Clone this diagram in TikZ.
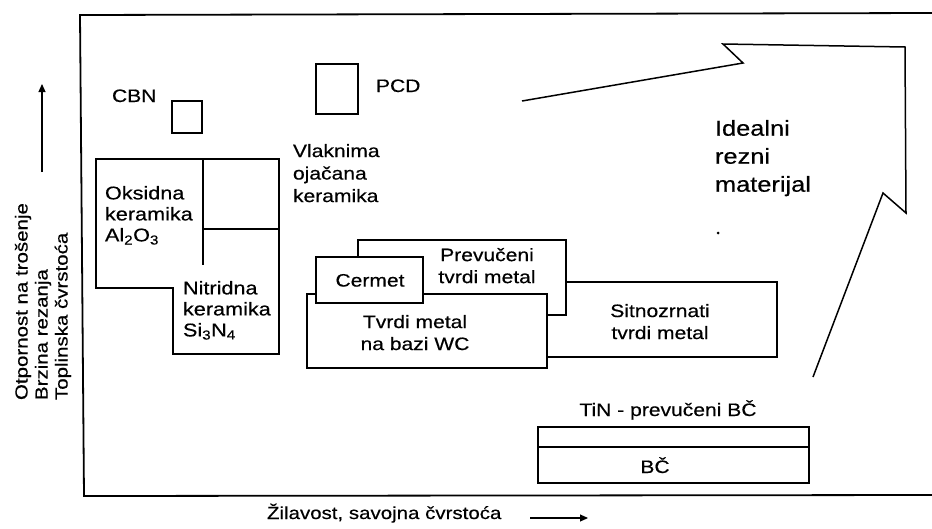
\documentclass[tikz,border=0pt]{standalone}
\usepackage{fontspec}
\setmainfont{Liberation Sans}[FakeStretch=1.17,FakeBold=0.4]
\usetikzlibrary{arrows.meta}
\begin{document}
\begin{tikzpicture}[x=1pt,y=-1pt,
  frame/.style={line width=1.8pt},
  box/.style={line width=1.4pt, fill=white},
  edge/.style={line width=1.4pt},
  lbl/.style={font=\fontsize{18}{22}\selectfont, inner sep=0pt, outer sep=0pt},
  big/.style={font=\fontsize{21.7}{28}\selectfont, inner sep=0pt, outer sep=0pt},
  axis/.style={font=\fontsize{17.5}{20}\selectfont, inner sep=0pt, outer sep=0pt},
  axarrow/.style={line width=1.1pt, -{Triangle[length=8pt,width=7pt]}}]
\useasboundingbox (0,0) rectangle (932,528);
\fill[white] (0,0) rectangle (932,528);

% frame
\coordinate (ftl) at (80,15);
\coordinate (ftr) at (932,13);
\coordinate (fbl) at (84,496);
\coordinate (fbr) at (932,495);
\draw[frame] (ftr) -- (ftl) -- (fbl) -- (fbr);

% axis labels
\node[axis, rotate=90, anchor=west, align=left] (ylab) at (43,400)
  {Otpornost na trošenje\\Brzina rezanja\\Toplinska čvrstoća};
\coordinate (ya0) at (42,172);
\coordinate (ya1) at (42,84);
\draw[axarrow] (ya0) -- (ya1);
\node[axis, anchor=base west] (xlab) at (267,519) {Žilavost, savojna čvrstoća};
\coordinate (xa0) at (530,518);
\coordinate (xa1) at (588,518);
\draw[axarrow] (xa0) -- (xa1);

% CBN and PCD
\draw[box] (172,101) rectangle (202,133);
\node[lbl, anchor=base west] (cbn) at (112,102) {CBN};
\draw[box] (316,64) rectangle (358,114);
\node[lbl, anchor=base west] (pcd) at (376,92) {PCD};

% ceramics
\draw[edge] (96,159) -- (279,159) -- (279,354) -- (173,354) -- (173,288) -- (96,288) -- cycle;
\draw[edge] (203,159) -- (203,265);
\draw[edge] (203,229) -- (279,229);
\node[lbl, anchor=north west, align=left, font=\fontsize{18.5}{21}\selectfont] (oks) at (105,186)
  {Oksidna\\keramika\\Al\textsubscript{2}O\textsubscript{3}};
\node[lbl, anchor=north west, align=left, font=\fontsize{18.5}{21}\selectfont] (nit) at (183,281)
  {Nitridna\\keramika\\Si\textsubscript{3}N\textsubscript{4}};
\node[lbl, anchor=north west, align=left, font=\fontsize{18}{22.5}\selectfont] (vla) at (293,144)
  {Vlaknima\\ojačana\\keramika};

% hard metals
\draw[box] (540,282) rectangle (777,357);
\draw[box] (358,240) rectangle (566,315);
\draw[box] (307,294) rectangle (547,368);
\draw[box] (316,257) rectangle (423,303);
\node[lbl, anchor=north, align=center] (prev) at (487,248) {Prevučeni\\tvrdi metal};
\node[lbl, anchor=north] (cer) at (370,274) {Cermet};
\node[lbl, anchor=north, align=center] (tvr) at (415,315) {Tvrdi metal\\na bazi WC};
\node[lbl, anchor=north, align=center] (sit) at (660,304) {Sitnozrnati\\tvrdi metal};

% BC
\node[lbl, anchor=base] (tin) at (668,416) {TiN - prevučeni BČ};
\draw[box] (538,427) rectangle (809,483);
\draw[edge] (538,447) -- (809,447);
\node[lbl, anchor=base] (bc) at (655,473) {BČ};

% ideal arrow
\draw[line width=1.5pt, line join=miter] (522,101) -- (743,63) -- (723,44) -- (905,47) -- (906,213) -- (883,193) -- (813,377);
\node[big, anchor=north west, align=left] (ideal) at (715,120) {Idealni\\rezni\\materijal};
\fill (718,233) circle (1.5);
\end{tikzpicture}
\end{document}
